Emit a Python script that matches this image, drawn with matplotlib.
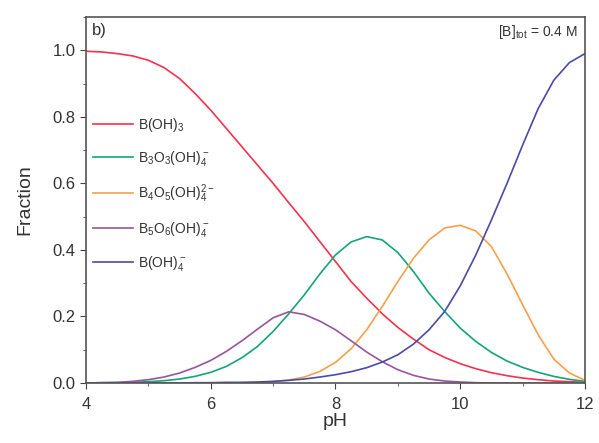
import matplotlib.pyplot as plt
from matplotlib.ticker import MultipleLocator

plt.rcParams['font.family'] = ['Liberation Sans', 'DejaVu Sans']
plt.rcParams['mathtext.default'] = 'regular'

ph = [4.0, 4.25, 4.5, 4.75, 5.0, 5.25, 5.5, 5.75, 6.0, 6.25, 6.5, 6.75, 7.0, 7.25, 7.5, 7.75,
      8.0, 8.25, 8.5, 8.75, 9.0, 9.25, 9.5, 9.75, 10.0, 10.25, 10.5, 10.75, 11.0, 11.25, 11.5, 11.75, 12.0]

b_oh3 = [0.997, 0.995, 0.99, 0.983, 0.97, 0.948, 0.915, 0.87, 0.82, 0.765, 0.71, 0.655, 0.60, 0.542, 0.485, 0.425,
         0.365, 0.305, 0.255, 0.208, 0.167, 0.132, 0.10, 0.077, 0.058, 0.043, 0.031, 0.022, 0.015, 0.01, 0.006, 0.004, 0.002]
b3o3 = [0.0, 0.001, 0.001, 0.002, 0.004, 0.007, 0.012, 0.02, 0.032, 0.05, 0.076, 0.11, 0.155, 0.208, 0.265, 0.328,
        0.385, 0.424, 0.44, 0.43, 0.392, 0.335, 0.27, 0.215, 0.165, 0.125, 0.092, 0.066, 0.047, 0.032, 0.02, 0.011, 0.005]
b4o5 = [0.0, 0.0, 0.0, 0.0, 0.0, 0.0, 0.0, 0.0, 0.0, 0.0, 0.001, 0.002, 0.004, 0.009, 0.018, 0.035,
        0.062, 0.103, 0.16, 0.23, 0.305, 0.375, 0.43, 0.466, 0.474, 0.457, 0.41, 0.328, 0.235, 0.145, 0.072, 0.03, 0.008]
b5o6 = [0.0, 0.001, 0.002, 0.005, 0.01, 0.018, 0.03, 0.047, 0.068, 0.095, 0.127, 0.162, 0.196, 0.214, 0.206, 0.186,
        0.16, 0.127, 0.093, 0.064, 0.04, 0.023, 0.012, 0.006, 0.003, 0.001, 0.0, 0.0, 0.0, 0.0, 0.0, 0.0, 0.0]
b_oh4 = [0.0, 0.0, 0.0, 0.0, 0.0, 0.0, 0.0, 0.001, 0.001, 0.002, 0.002, 0.003, 0.005, 0.008, 0.012, 0.018,
         0.025, 0.034, 0.046, 0.063, 0.085, 0.117, 0.16, 0.215, 0.292, 0.385, 0.49, 0.60, 0.715, 0.825, 0.91, 0.963, 0.99]

labels = ['B(OH)$_3$', 'B$_3$O$_3$(OH)$_4^-$', 'B$_4$O$_5$(OH)$_4^{2-}$',
          'B$_5$O$_6$(OH)$_4^-$', 'B(OH)$_4^-$']
colors = ['#f2334d', '#12a57a', '#f7a04a', '#9a539e', '#4a4aa8']

fig = plt.figure(figsize=(5.99, 4.43), dpi=100)
ax = fig.add_axes([0.1436, 0.1354, 0.833, 0.8262])

for ys, lab, c in zip([b_oh3, b3o3, b4o5, b5o6, b_oh4], labels, colors):
    ax.plot(ph, ys, color=c, lw=1.2, label=lab)

ax.set_xlim(4, 12)
ax.set_ylim(0, 1.1)
ax.xaxis.set_major_locator(MultipleLocator(2))
ax.xaxis.set_minor_locator(MultipleLocator(1))
ax.yaxis.set_major_locator(MultipleLocator(0.2))
ax.yaxis.set_minor_locator(MultipleLocator(0.1))
ax.tick_params(which='both', direction='out', top=False, right=False,
               labelsize=12, labelcolor='#333333', color='#444444')
ax.tick_params(which='major', length=4)
ax.tick_params(which='minor', length=2.5)
ax.tick_params(axis='x', pad=6)
for s in ax.spines.values():
    s.set_color('#555555')
    s.set_linewidth(1.2)

ax.set_xlabel('pH', fontsize=14, color='#333333', labelpad=1)
ax.set_ylabel('Fraction', fontsize=14, color='#333333', labelpad=14)

ax.text(0.012, 0.985, 'b)', transform=ax.transAxes, fontsize=12, color='#333333',
        ha='left', va='top')
ax.text(0.985, 0.985, '[B]$_{tot}$ = 0.4 M', transform=ax.transAxes, fontsize=10,
        color='#333333', ha='right', va='top')

ax.legend(loc='upper left', bbox_to_anchor=(-0.012, 0.765), frameon=False, fontsize=10,
          handlelength=2.9, handletextpad=0.4, labelspacing=1.08, labelcolor='#333333')

fig.savefig('out.png', dpi=100)
